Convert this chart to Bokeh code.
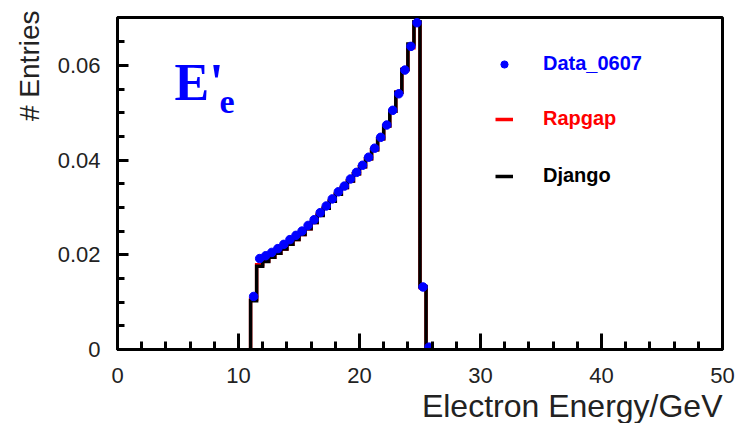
import math
from bokeh.plotting import figure
from bokeh.models import (FixedTicker, CustomJSTickFormatter, Label, Legend,
                          LegendItem, Range1d, Title)
from bokeh.embed import file_html
from bokeh.resources import INLINE

# ---- data ----
bin_edges = [11.0, 11.5, 12.0, 12.5, 13.0, 13.5, 14.0, 14.5, 15.0, 15.5,
             16.0, 16.5, 17.0, 17.5, 18.0, 18.5, 19.0, 19.5, 20.0, 20.5,
             21.0, 21.5, 22.0, 22.5, 23.0, 23.5, 24.0, 24.5, 25.0, 25.5, 26.0]

data_0607 = [0.0112, 0.0192, 0.0198, 0.0205, 0.0213, 0.0222, 0.0232, 0.0241,
             0.0250, 0.0262, 0.0274, 0.0289, 0.0303, 0.0318, 0.0333, 0.0345,
             0.0360, 0.0374, 0.0389, 0.0406, 0.0425, 0.0448, 0.0474, 0.0505,
             0.0540, 0.0590, 0.0640, 0.0690, 0.0132, 0.0005]

rapgap = [0.0106, 0.0179, 0.0187, 0.0195, 0.0203, 0.0212, 0.0222, 0.0232,
          0.0243, 0.0255, 0.0268, 0.0285, 0.0298, 0.0313, 0.0328, 0.0342,
          0.0356, 0.0371, 0.0386, 0.0403, 0.0422, 0.0445, 0.0472, 0.0503,
          0.0543, 0.0591, 0.0637, 0.0690, 0.0131, 0.0]

django = [0.0103, 0.0176, 0.0186, 0.0195, 0.0203, 0.0212, 0.0222, 0.0232,
          0.0243, 0.0255, 0.0268, 0.0283, 0.0298, 0.0313, 0.0328, 0.0342,
          0.0356, 0.0371, 0.0386, 0.0403, 0.0422, 0.0445, 0.0472, 0.0503,
          0.0543, 0.0591, 0.0645, 0.0692, 0.0133, 0.0]

x_major_ticks = [0, 10, 20, 30, 40, 50]
x_minor_ticks = [0, 2, 4, 6, 8, 10, 12, 14, 16, 18, 20, 22, 24, 26, 28, 30,
                 32, 34, 36, 38, 40, 42, 44, 46, 48, 50]
y_major_ticks = [0, 0.02, 0.04, 0.06]
y_minor_ticks = [0, 0.005, 0.01, 0.015, 0.02, 0.025, 0.03, 0.035, 0.04,
                 0.045, 0.05, 0.055, 0.06, 0.065, 0.07]

x_title = "Electron Energy/GeV"
y_title = "# Entries"
legend_labels = ["Data_0607", "Rapgap", "Django"]

# ---- figure ----
p = figure(width=742, height=423, x_range=Range1d(0, 50), y_range=Range1d(0, 0.0701),
           output_backend="svg", toolbar_location=None,
           min_border_left=117, min_border_right=20, min_border_top=17,
           min_border_bottom=73)
p.grid.visible = False
p.outline_line_color = "black"
p.outline_line_width = 3
p.background_fill_color = "white"
p.border_fill_color = "white"

for ax in (p.xaxis[0], p.yaxis[0]):
    ax.axis_line_width = 3
    ax.axis_line_color = "black"
    ax.major_tick_line_width = 3
    ax.minor_tick_line_width = 3
    ax.major_tick_line_color = "black"
    ax.minor_tick_line_color = "black"
    ax.major_tick_out = 0
    ax.minor_tick_out = 0
    ax.major_label_text_font = "Liberation Sans"
    ax.major_label_text_color = "#222222"
    ax.major_label_text_font_size = "22px"

p.xaxis.ticker = FixedTicker(ticks=x_major_ticks, minor_ticks=x_minor_ticks)
p.xaxis.major_tick_in = 16
p.xaxis.minor_tick_in = 8
p.xaxis.major_label_standoff = 18

p.yaxis.ticker = FixedTicker(ticks=y_major_ticks, minor_ticks=y_minor_ticks)
p.yaxis.formatter = CustomJSTickFormatter(code="return tick === 0 ? '0' : tick.toFixed(2);")
p.yaxis.major_tick_in = 11
p.yaxis.minor_tick_in = 7
p.yaxis.major_label_standoff = 17

# axis titles as right/top-aligned Titles in the side panels
p.add_layout(Title(text=x_title, align="right", text_font="Liberation Sans",
                   text_font_size="32px", text_font_style="normal",
                   text_color="#222222", standoff=0), "below")
p.add_layout(Title(text=y_title, align="right", text_font="Liberation Sans",
                   text_font_size="28px", text_font_style="normal",
                   text_color="#222222", standoff=19, offset=-7), "left")

# ---- histograms ----
step_x = [bin_edges[0]] + bin_edges
centers = [(bin_edges[i] + bin_edges[i + 1]) / 2 for i in range(len(data_0607))]

r_rap = p.step(x=step_x, y=[0] + rapgap + [0], mode="after",
               line_color="#ff0000", line_width=3.5, line_join="miter")
r_dja = p.step(x=step_x, y=[0] + django + [0], mode="after",
               line_color="black", line_width=3.5, line_join="miter")
r_dat = p.scatter(x=centers, y=data_0607, size=8.5, marker="circle",
                  fill_color="#0000ff", line_color="#0000ff")

# ---- legends (one per entry, coloured text) ----
def make_leg(label, r, color, loc):
    leg = Legend(items=[LegendItem(label=label, renderers=[r])], location=loc,
                 glyph_width=18, glyph_height=20, label_height=20,
                 label_standoff=30, padding=0, margin=0, spacing=0,
                 border_line_color=None, background_fill_alpha=0,
                 label_text_font="Liberation Sans", label_text_font_size="20px",
                 label_text_font_style="bold", label_text_color=color,
                 label_text_baseline="middle")
    p.add_layout(leg)

make_leg(legend_labels[0], r_dat, "#0000ff", (378, 274))
make_leg(legend_labels[1], r_rap, "#ff0000", (378, 219))
make_leg(legend_labels[2], r_dja, "black", (378, 162))

# ---- E'_e annotation ----
p.add_layout(Label(x=57, y=267, x_units="screen", y_units="screen",
                   text="E'", text_align="left", text_baseline="alphabetic",
                   text_font="Liberation Serif", text_font_size="52px",
                   text_font_style="bold", text_color="#0000ff"))
p.add_layout(Label(x=102, y=248, x_units="screen", y_units="screen",
                   text="e", text_align="left", text_baseline="alphabetic",
                   text_font="Liberation Serif", text_font_size="34px",
                   text_font_style="bold", text_color="#0000ff"))

open("out.html", "w").write(file_html(p, INLINE))
